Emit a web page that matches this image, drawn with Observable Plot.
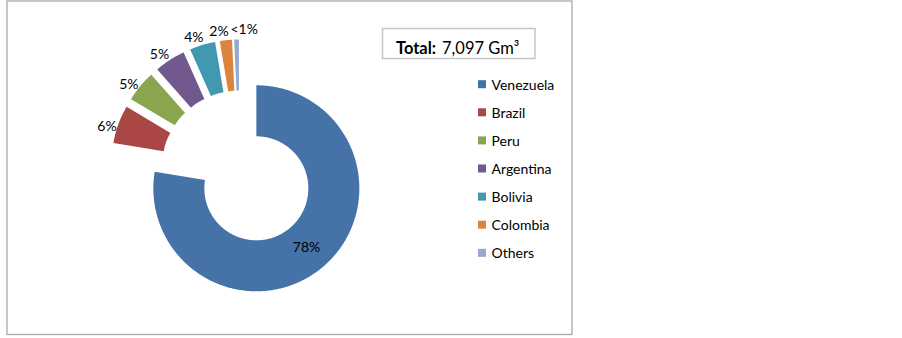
<!DOCTYPE html>
<html><head><meta charset="utf-8">
<script src="https://cdn.jsdelivr.net/npm/d3@7"></script>
<script src="https://cdn.jsdelivr.net/npm/@observablehq/plot@0.6"></script>
<style>html,body{margin:0;padding:0;background:#fff;} #chart{width:902px;height:338px;}</style>
</head><body><div id="chart"></div>
<script>
// ---- data (Gm³) ----
const countries = ["Venezuela", "Brazil", "Peru", "Argentina", "Bolivia", "Colombia", "Others"];
const reserves = [5505, 425, 350, 345, 285, 135, 52];
const colors = ["#4572A7", "#AA4643", "#89A54E", "#71588F", "#4198AF", "#DB843D", "#93A9CF"];
const totalLabel = "Total:";
const unitLabel = "Gm³";

// ---- layout ----
const W = 902, H = 338;
const CX = 239, CY = 168, R_IN = 52, R_OUT = 103, EXPLODE = 26, LABEL_R = 113;
const LEG_X = 478, LEG_Y0 = 84.2, LEG_DY = 28.1, SW = 8;
const FONT = "Lato, 'Open Sans', sans-serif";

const total = d3.sum(reserves);
let acc = 0;
const slices = countries.map((name, i) => {
  const a0 = acc / total * 2 * Math.PI;
  acc += reserves[i];
  const a1 = acc / total * 2 * Math.PI;
  const mid = (a0 + a1) / 2;
  const pct = reserves[i] / total * 100;
  return {name, value: reserves[i], a0, a1, mid, pct,
    ox: CX + EXPLODE * Math.sin(mid), oy: CY - EXPLODE * Math.cos(mid)};
});

const pts = [];
for (const s of slices) {
  const n = Math.max(2, Math.ceil((s.a1 - s.a0) / (Math.PI / 360)));
  for (let k = 0; k <= n; k++) {
    const a = s.a0 + (s.a1 - s.a0) * k / n;
    pts.push({name: s.name, x: s.ox + R_OUT * Math.sin(a), y: s.oy - R_OUT * Math.cos(a)});
  }
  for (let k = n; k >= 0; k--) {
    const a = s.a0 + (s.a1 - s.a0) * k / n;
    pts.push({name: s.name, x: s.ox + R_IN * Math.sin(a), y: s.oy - R_IN * Math.cos(a)});
  }
}

const pctText = p => p < 1 ? "<1%" : Math.round(p) + "%";
const labels = slices.map(s => {
  const inside = s.pct > 50;
  const r = inside ? (R_IN + R_OUT) / 2 : LABEL_R;
  const a = inside ? s.mid : s.mid - 3 * Math.PI / 180;
  return {text: pctText(s.pct), x: s.ox + r * Math.sin(a), y: s.oy - r * Math.cos(a), small: s.pct < 1};
});

const chart = Plot.plot({
  width: W, height: H,
  marginTop: 0, marginRight: 0, marginBottom: 0, marginLeft: 0,
  x: {domain: [0, W], range: [0, W], axis: null},
  y: {domain: [0, H], range: [0, H], axis: null},
  color: {domain: countries, range: colors},
  style: {fontFamily: FONT, background: "white", overflow: "visible"},
  marks: [
    Plot.rect([0], {x1: 7, x2: 572, y1: 1, y2: 334.5, fill: "white", stroke: "#a9a9a9", strokeWidth: 1.3}),
    Plot.line(pts, {x: "x", y: "y", z: "name", fill: "name", stroke: "none", curve: "linear"}),
    Plot.text(labels.filter(d => !d.small), {x: "x", y: "y", text: "text", fontSize: 14, fill: "#000", textAnchor: "middle"}),
    Plot.text(labels.filter(d => d.small), {x: "x", y: "y", text: "text", fontSize: 14, fill: "#000", textAnchor: "start"}),
    // total box
    Plot.rect([0], {x1: 382.5, x2: 535, y1: 28.5, y2: 58.5, fill: "white", stroke: "#c6c6c6", strokeWidth: 1.5}),
    Plot.text([totalLabel], {x: 395.5, y: 48, text: d => d, fontSize: 16.5, fontWeight: "bold", fill: "#000", textAnchor: "start"}),
    Plot.text([`${d3.format(",")(total)} ${unitLabel}`], {x: 441.5, y: 48, text: d => d, fontSize: 16.5, fill: "#000", textAnchor: "start"}),
    // legend
    Plot.rect(countries, {x1: LEG_X, x2: LEG_X + SW, y1: (d, i) => LEG_Y0 + i * LEG_DY - SW / 2, y2: (d, i) => LEG_Y0 + i * LEG_DY + SW / 2, fill: d => d}),
    Plot.text(countries, {x: LEG_X + 13, y: (d, i) => LEG_Y0 + i * LEG_DY + 0.5, text: d => d, fontSize: 14, fill: "#000", textAnchor: "start"})
  ]
});
document.getElementById("chart").append(chart);
</script>
</body></html>
